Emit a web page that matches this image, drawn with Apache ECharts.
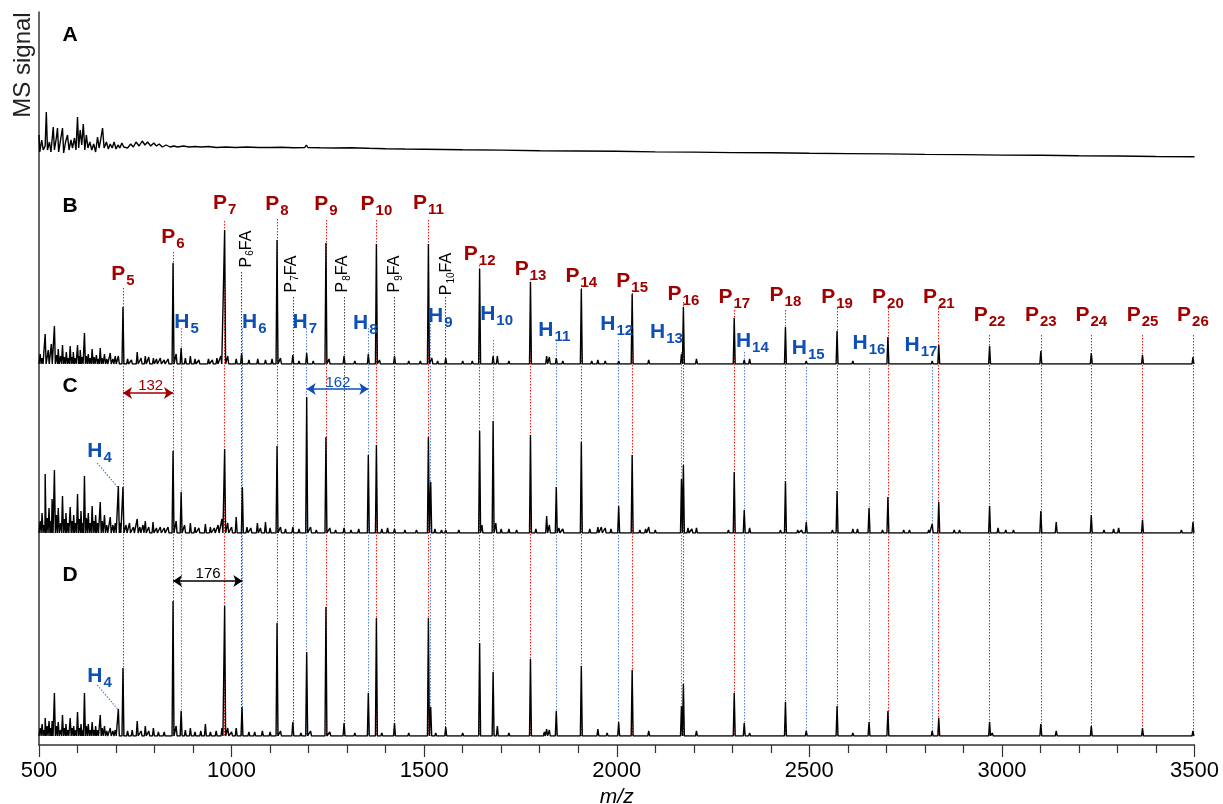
<!DOCTYPE html>
<html>
<head>
<meta charset="utf-8">
<script src="https://cdn.jsdelivr.net/npm/echarts@6.0.0/dist/echarts.min.js"></script>
<style>
  html, body { margin: 0; padding: 0; background: #fff; }
  #main { width: 1223px; height: 804px; }
</style>
</head>
<body>
<div id="main"></div>
<script>
const FONT = 'Arial, "Liberation Sans", sans-serif';
const RED = '#a00000', BLUE = '#0d4fb5';

// trace A (blank) : [m/z, signal]
const aTrace = [[500,25],[502,8],[507,20],[511,10],[516,14],[519,48],[522,10],[527,18],[531,8],[537,33],[540,10],[545,22],[548,32],[551,8],[556,20],[561,32],[564,7],[569,18],[574,25],[578,10],[583,20],[587,12],[592,22],[596,10],[600,43],[603,12],[607,30],[611,15],[615,36],[619,10],[623,25],[627,12],[632,18],[637,10],[642,16],[647,8],[652,23],[656,12],[660,20],[665,32],[669,12],[675,18],[680,11],[685,16],[690,12],[695,18],[700,11],[705,15],[710,12],[715,17],[720,13],[725,14],[730,12],[738,16],[745,13],[752,18],[760,14],[768,19],[775,15],[782,18],[790,14],[798,17],[805,14],[812,16],[820,13],[830,15],[840,13],[850,14],[860,13],[875,14],[890,13],[905,13.5],[920,13],[940,13.5],[960,12.5],[985,13],[1010,12.5],[1040,13],[1070,12.5],[1100,12.5],[1130,12.8],[1160,12.3],[1190,12.5],[1194,15],[1198,12.5],[1230,12.2],[1270,12],[1310,12.2],[1350,11.8],[1353,13],[1357,11.7],[1400,11.3],[1450,11],[1500,10.8],[1600,10.2],[1700,9.9],[1800,9.3],[1900,9],[2000,8.7],[2100,8.1],[2200,7.9],[2300,7.4],[2400,7.2],[2500,6.7],[2600,6.4],[2700,6.1],[2800,5.6],[2900,5.4],[3000,4.9],[3100,4.7],[3200,4.2],[3300,4],[3400,3.5],[3500,3.3]];

// peak lists [m/z, height] for traces B, C, D
const bPeaks = [[503,10],[508,6],[516,30],[524,14],[532,20],[540,38],[546,9],[550,15],[556,8],[561,19],[566,7],[571,12],[576,6],[581,18],[586,7],[589,12],[594,6],[600,19],[604,8],[607,14],[612,7],[618,31],[623,8],[628,10],[633,6],[638,15],[643,7],[649,9],[654,5],[659,16],[664,6],[670,10],[676,5],[685,11],[692,5],[698,8],[706,8],
  [718,57],[730,5],[740,4],[755,12],[765,6],[776,8],[785,7],[797,6],[805,5],[815,6],[825,4],[835,5],
  [848,101],[856,10],[869,16],[880,6],[893,8],[905,5],[915,4],[940,5],[950,4],[962,6],[972,8],
  [982,134],[990,8],[1012,5],[1026,11],[1045,4],[1068,5],[1088,4],[1105,5],
  [1118,124],[1127,6],[1159,9],[1175,3],[1195,11],[1212,3],
  [1245,121],[1253,5],[1292,8],[1320,3],[1355,10],
  [1376,120],[1384,4],[1423,8],[1460,3],[1490,3],
  [1511,120],[1520,6],[1535,3],[1556,6],[1600,3],[1625,3],
  [1644,95],[1679,8],[1690,8],[1720,3],
  [1776,82],[1818,8],[1825,7],[1843,6],[1860,3],
  [1908,75],[1935,3],[1951,4],[1970,3],[2005,3],
  [2040,70],[2083,4],[2110,2],
  [2168,10],[2173,57],[2207,5],
  [2305,46],[2331,4],[2345,5],
  [2438,37],[2480,2],[2492,3],
  [2572,33],[2613,3],[2655,2],[2704,27],[2746,2],[2819,3],[2836,19],[2876,2],
  [2968,18],[3011,2],[3101,13],[3141,2],[3232,11],[3301,1],[3365,9],[3496,7]];

const cPeaks = [[503,12],[508,20],[513,8],[516,59],[521,15],[526,25],[530,12],[534,34],[540,63],[545,18],[550,25],[556,10],[561,37],[566,14],[570,20],[575,10],[581,26],[586,12],[590,18],[595,10],[600,39],[605,14],[609,22],[613,10],[618,57],[623,15],[628,20],[633,10],[638,27],[643,12],[647,18],[652,10],[659,31],[664,12],[670,18],[676,8],[685,16],[692,8],[698,10],
  [706,47],[710,10],[718,46],[726,8],[735,10],[745,6],[755,14],[762,6],[770,8],[776,12],[785,6],[796,11],[805,5],[815,6],[825,5],[835,6],
  [848,82],[856,12],[869,41],[878,8],[893,10],[905,6],[915,5],[932,9],[945,6],[955,5],[965,8],[975,14],
  [982,84],[990,10],[1000,6],[1012,16],[1028,46],[1040,6],[1050,5],[1067,10],[1075,5],[1088,11],[1100,5],
  [1118,87],[1127,6],[1140,4],[1159,6],[1175,4],[1195,136],[1205,6],[1220,3],
  [1245,96],[1255,5],[1270,3],[1292,5],[1310,3],[1330,4],[1355,78],[1376,88],[1390,4],[1405,5],[1423,4],[1450,3],[1480,3],
  [1511,96],[1517,51],[1528,4],[1545,3],[1556,3],[1590,3],
  [1644,102],[1650,8],[1679,112],[1686,10],[1700,4],[1720,4],[1740,3],
  [1776,98],[1790,4],[1818,17],[1825,8],[1843,46],[1850,5],[1860,4],
  [1908,91],[1930,4],[1951,6],[1960,6],[1970,5],[1985,4],[2005,27],
  [2040,78],[2060,3],[2075,4],[2083,6],[2100,3],
  [2168,54],[2173,68],[2185,5],[2195,4],[2207,5],
  [2290,3],[2305,61],[2331,23],[2345,5],
  [2425,3],[2438,52],[2470,3],[2480,3],[2492,11],
  [2560,3],[2572,42],[2613,4],[2625,4],[2655,25],[2690,3],[2704,36],[2745,3],[2760,3],[2810,3],[2819,9],[2836,31],[2876,3],[2890,3],
  [2968,27],[2990,5],[3010,3],[3030,3],[3101,22],[3141,11],[3232,18],[3265,3],[3290,4],[3303,5],[3365,13],[3400,2],[3466,3],[3496,11]];

const dPeaks = [[503,8],[508,12],[513,6],[516,18],[521,10],[526,15],[530,8],[534,15],[540,43],[545,10],[550,14],[556,6],[561,21],[566,8],[570,12],[575,6],[581,18],[586,8],[590,10],[595,6],[600,24],[605,8],[609,12],[613,6],[618,43],[623,10],[628,12],[633,6],[638,14],[643,6],[647,10],[652,6],[659,21],[664,8],[670,10],[676,5],[685,8],[692,5],[698,6],
  [706,27],[718,68],[730,5],[742,6],[755,15],[765,5],[776,10],[785,5],[797,8],[810,4],[825,4],
  [848,135],[856,10],[869,25],[880,6],[893,8],[905,4],[920,5],[932,12],[945,4],[960,5],[975,8],
  [982,130],[990,8],[1000,4],[1012,8],[1027,29],[1045,4],[1060,4],[1080,5],[1100,4],
  [1118,113],[1127,5],[1159,14],[1180,3],[1195,84],[1205,5],
  [1245,129],[1255,4],[1292,13],[1320,3],[1355,43],[1376,118],[1390,3],[1423,13],[1460,3],
  [1511,118],[1517,29],[1530,3],[1556,9],[1600,3],
  [1644,93],[1679,64],[1690,10],[1720,3],
  [1776,77],[1812,4],[1818,7],[1825,6],[1843,25],
  [1908,70],[1951,7],[1975,3],[2005,14],
  [2040,66],[2083,5],
  [2168,30],[2173,52],[2207,5],
  [2305,43],[2331,13],[2345,3],
  [2438,34],[2485,2],[2492,5],
  [2572,30],[2613,3],[2655,14],[2704,25],[2746,2],[2819,5],[2836,18],
  [2968,14],[2975,3],[3101,12],[3141,5],[3232,10],[3301,2],[3365,8],[3496,5]];

// peak assignments
const pN = [5,6,7,8,9,10,11,12,13,14,15,16,17,18,19,20,21,22,23,24,25,26];
const pMz = [718,848,982,1118,1245,1376,1511,1644,1776,1908,2040,2173,2305,2438,2572,2704,2836,2968,3101,3232,3365,3496];
const hN = [5,6,7,8,9,10,11,12,13,14,15,16,17];
const hMz = [869,1028,1195,1355,1517,1679,1843,2005,2168,2331,2492,2655,2819];
const faN = [6,7,8,9,10];
const faMz = [1026,1159,1292,1423,1556];

// annotation heights on the full-height overlay axis (0 = x axis line)
const pLineTop = [457,493,524,526,525,525,525,480,466,460,455,443,435,435,437,437,437,410,410,410,410,410];
const pLabelY = [470,507,541,540,540,540,541,490,475,468,463,450,447,449,447,447,447,429,429,429,429,429];
const hLineTop = [417,417,417,417,427,405,405,405,393,393,378,377,378];
const hLabelMz = [883,1059,1190,1347,1542,1688,1838,2000,2129,2352,2497,2655,2790];
const hLabelY = [422,422,422,421,428,430,414,420,412,403,396,401,399];
const faLineTop = [473,448,448,448,448];
const faLabelMz = [1039,1156,1290,1424,1559];
const faLabelY = [496,471,471,471,471];
const lineBottom = 9;

const arrowFrom = [718,1195,848];
const arrowTo = [848,1355,1028];
const arrowY = [352,356,164];
const arrowText = ['132','162','176'];
const arrowTextMz = [790,1276,939];
const arrowTextY = [359,362,171];
const arrowColor = [RED, BLUE, '#000'];

const h4LabelMz = [657,657];
const h4LabelY = [293,68];
const h4Lead = [[[651,282],[704,258]], [[651,60],[704,36]]];

const L = 39, R = 28.5;
const panels = [
  {top: 60, height: 100},
  {top: 214, height: 150},
  {top: 383, height: 150},
  {top: 586, height: 150}
];

function stick(peaks) {
  const hw = 2.5;
  let pts = [[500, 0]];
  let last = 500;
  peaks.forEach(([mz, h]) => {
    pts.push([Math.max(last, mz - hw), 0], [mz, h]);
    last = mz + hw;
    pts.push([last, 0]);
  });
  pts.push([3500, 0]);
  return pts;
}

function subLabel(color, size, subSize, weight) {
  return {
    show: true, position: 'inside', color: color, opacity: 1,
    formatter: p => '{m|' + p.data.m + '}{s|' + p.data.s + '}' + (p.data.t ? '{m|' + p.data.t + '}' : ''),
    rich: {
      m: {fontSize: size, fontWeight: weight, fontFamily: FONT, color: color, lineHeight: size + 1, verticalAlign: 'top'},
      s: {fontSize: subSize, fontWeight: weight, fontFamily: FONT, color: color, lineHeight: subSize, padding: [Math.round(size * 0.5), 0, 0, 1]}
    }
  };
}

let grids = [{left: L, right: R, top: 12, height: 733, outerBoundsMode: 'none'}];
let xAxes = [{
  gridIndex: 0, type: 'value', min: 500, max: 3500, interval: 500,
  axisLine: {show: true, onZero: false, lineStyle: {color: '#333', width: 1.5}},
  axisTick: {show: true, length: 12, lineStyle: {color: '#333', width: 1.2}},
  minorTick: {show: true, splitNumber: 5, length: 8, lineStyle: {color: '#333', width: 1.2}},
  axisLabel: {fontSize: 22, color: '#000', fontFamily: FONT, margin: 15, formatter: v => String(v)},
  splitLine: {show: false}, minorSplitLine: {show: false},
  name: 'm/z', nameLocation: 'middle', nameGap: 29,
  nameTextStyle: {fontSize: 21, fontStyle: 'italic', color: '#000', fontFamily: FONT}
}];
let yAxes = [{
  gridIndex: 0, type: 'value', min: 0, max: 733,
  axisLine: {show: true, onZero: false, lineStyle: {color: '#333', width: 1.5}},
  axisTick: {show: false}, axisLabel: {show: false}, splitLine: {show: false}
}];
panels.forEach((p, i) => {
  grids.push({left: L, right: R, top: p.top, height: p.height, outerBoundsMode: 'none'});
  xAxes.push({gridIndex: i + 1, type: 'value', min: 500, max: 3500, show: false});
  yAxes.push({gridIndex: i + 1, type: 'value', min: 0, max: p.height, show: false});
});

const traces = [aTrace, stick(bPeaks), stick(cPeaks), stick(dPeaks)];
let series = traces.map((d, i) => ({
  type: 'line', xAxisIndex: i + 1, yAxisIndex: i + 1, data: d,
  showSymbol: false, symbol: 'none', z: 3, silent: true,
  lineStyle: {color: '#000', width: 1.4}
}));

function vlines(xs, tops, color) {
  return {
    type: 'lines', coordinateSystem: 'cartesian2d', xAxisIndex: 0, yAxisIndex: 0, z: 1, silent: true,
    lineStyle: {color: color, width: 1.1, type: [1.5, 1.5], opacity: 1},
    data: xs.map((x, i) => ({coords: [[x, tops[i]], [x, lineBottom]]}))
  };
}
series.push(vlines(pMz, pLineTop, '#ff1a1a'));
series.push(vlines(hMz, hLineTop, '#5a88d8'));
series.push(vlines(faMz, faLineTop, '#444'));

series.push({
  type: 'lines', coordinateSystem: 'cartesian2d', xAxisIndex: 0, yAxisIndex: 0, z: 1, silent: true,
  lineStyle: {color: '#3f74cf', width: 1.1, type: [1.5, 1.5], opacity: 1},
  data: h4Lead.map(c => ({coords: c}))
});

series.push({
  type: 'lines', coordinateSystem: 'cartesian2d', xAxisIndex: 0, yAxisIndex: 0, z: 4, silent: true,
  symbol: ['arrow', 'arrow'], symbolSize: 9,
  data: arrowFrom.map((x, i) => ({
    coords: [[x, arrowY[i]], [arrowTo[i], arrowY[i]]],
    lineStyle: {color: arrowColor[i], width: 1.5, type: 'solid', opacity: 1}
  }))
});

function labelSeries(data, label, rotate) {
  let lb = Object.assign({}, label);
  if (rotate) lb.rotate = rotate;
  return {
    type: 'scatter', xAxisIndex: 0, yAxisIndex: 0, z: 5, silent: true,
    symbolSize: 1, itemStyle: {color: 'rgba(0,0,0,0)'},
    label: lb, data: data
  };
}

series.push(labelSeries(
  pMz.map((x, i) => ({value: [x, pLabelY[i]], m: 'P', s: pN[i]})),
  subLabel(RED, 21, 15, 'bold')));
series.push(labelSeries(
  hLabelMz.map((x, i) => ({value: [x, hLabelY[i]], m: 'H', s: hN[i]}))
    .concat(h4LabelMz.map((x, i) => ({value: [x, h4LabelY[i]], m: 'H', s: 4}))),
  subLabel(BLUE, 21, 15, 'bold')));
series.push(labelSeries(
  faLabelMz.map((x, i) => ({value: [x, faLabelY[i]], m: 'P', s: faN[i], t: 'FA'})),
  subLabel('#000', 16, 10, 'normal'), 90));
series.push({
  type: 'scatter', xAxisIndex: 0, yAxisIndex: 0, z: 5, silent: true,
  symbolSize: 1, itemStyle: {color: 'rgba(0,0,0,0)'},
  data: arrowTextMz.map((x, i) => ({
    value: [x, arrowTextY[i]],
    label: {show: true, position: 'inside', formatter: arrowText[i], color: arrowColor[i], opacity: 1, fontSize: 15, fontFamily: FONT}
  }))
});

const panelNames = ['A', 'B', 'C', 'D'];
const panelNameY = [35, 206, 386, 575];

let chart = echarts.init(document.getElementById('main'), null, {renderer: 'canvas'});
chart.setOption({
  backgroundColor: '#fff',
  animation: false,
  grid: grids,
  xAxis: xAxes,
  yAxis: yAxes,
  series: series,
  graphic: [{
    type: 'text', x: 23, y: 65, rotation: Math.PI / 2,
    style: {text: 'MS signal', fontSize: 24, fontFamily: FONT, fill: '#222', align: 'center', verticalAlign: 'middle'}
  }].concat(panelNames.map((n, i) => ({
    type: 'text', x: 70, y: panelNameY[i],
    style: {text: n, fontSize: 21, fontWeight: 'bold', fontFamily: FONT, fill: '#000', align: 'center', verticalAlign: 'middle'}
  })))
});
</script>
</body>
</html>
